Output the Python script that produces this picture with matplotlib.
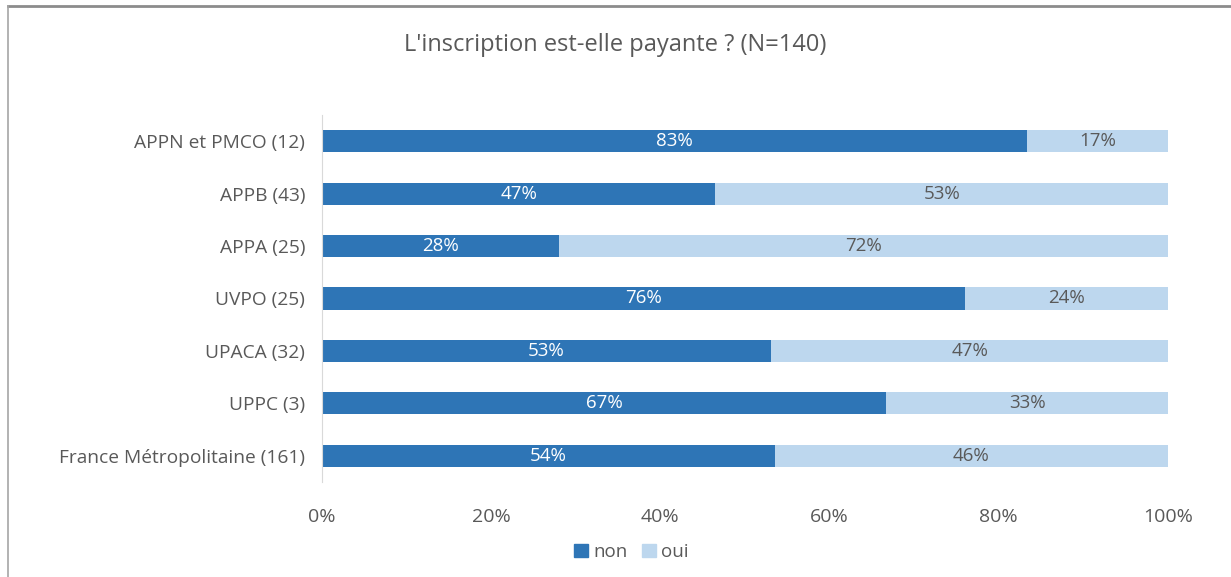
import matplotlib.pyplot as plt
from matplotlib.lines import Line2D
from matplotlib.patches import Patch

plt.rcParams["font.family"] = ["Open Sans", "DejaVu Sans"]

categories = ["APPN et PMCO (12)", "APPB (43)", "APPA (25)", "UVPO (25)",
              "UPACA (32)", "UPPC (3)", "France Métropolitaine (161)"]
non_pct = [83.3, 46.5, 28.0, 76.0, 53.1, 66.7, 53.5]
oui_pct = [16.7, 53.5, 72.0, 24.0, 46.9, 33.3, 46.5]
non_labels = ["83%", "47%", "28%", "76%", "53%", "67%", "54%"]
oui_labels = ["17%", "53%", "72%", "24%", "47%", "33%", "46%"]
xticks = [0, 20, 40, 60, 80, 100]

dark = "#2E75B6"
light = "#BDD7EE"
grey = "#595959"

fig = plt.figure(figsize=(12.31, 5.77), dpi=100)
ax = fig.add_axes([322 / 1231, 1 - 482 / 577, (1168 - 322) / 1231, (482 - 115) / 577])

y = list(range(len(categories)))
ax.barh(y, non_pct, height=0.42, color=dark, label="non")
ax.barh(y, oui_pct, left=non_pct, height=0.42, color=light, label="oui")

for i in y:
    ax.text(non_pct[i] / 2, i, non_labels[i], ha="center", va="center",
            color="white", fontsize=13.5)
    ax.text(non_pct[i] + oui_pct[i] / 2, i, oui_labels[i], ha="center",
            va="center", color=grey, fontsize=13.5)

ax.set_ylim(len(categories) - 0.5, -0.5)
ax.set_xlim(0, 100)
ax.set_yticks(y)
ax.set_yticklabels(categories, fontsize=13.8, color=grey)
ax.set_xticks(xticks)
ax.set_xticklabels([f"{t}%" for t in xticks], fontsize=14, color=grey)
ax.tick_params(axis="both", length=0)
ax.tick_params(axis="x", pad=19)
ax.tick_params(axis="y", pad=12)
for s in ["top", "right", "bottom"]:
    ax.spines[s].set_visible(False)
ax.spines["left"].set_color("#D9D9D9")

fig.text(0.5, 1 - 45 / 577, "L'inscription est-elle payante ? (N=140)",
         ha="center", va="center", fontsize=17, color=grey)

handles = [Patch(color=dark, label="non"), Patch(color=light, label="oui")]
fig.legend(handles=handles, loc="center", bbox_to_anchor=(0.513, 1 - 552 / 577),
           ncol=2, frameon=False, fontsize=13.5, handlelength=0.7, handleheight=0.7,
           handletextpad=0.3, columnspacing=0.8, labelcolor=grey)

# outer frame lines
fig.add_artist(Line2D([8 / 1231, 1], [1 - 6 / 577, 1 - 6 / 577],
                      transform=fig.transFigure, color="#8C8C8C", lw=2))
fig.add_artist(Line2D([8 / 1231, 8 / 1231], [0, 1 - 6 / 577],
                      transform=fig.transFigure, color="#A6A6A6", lw=1.2))

fig.savefig("out.png", dpi=100)
